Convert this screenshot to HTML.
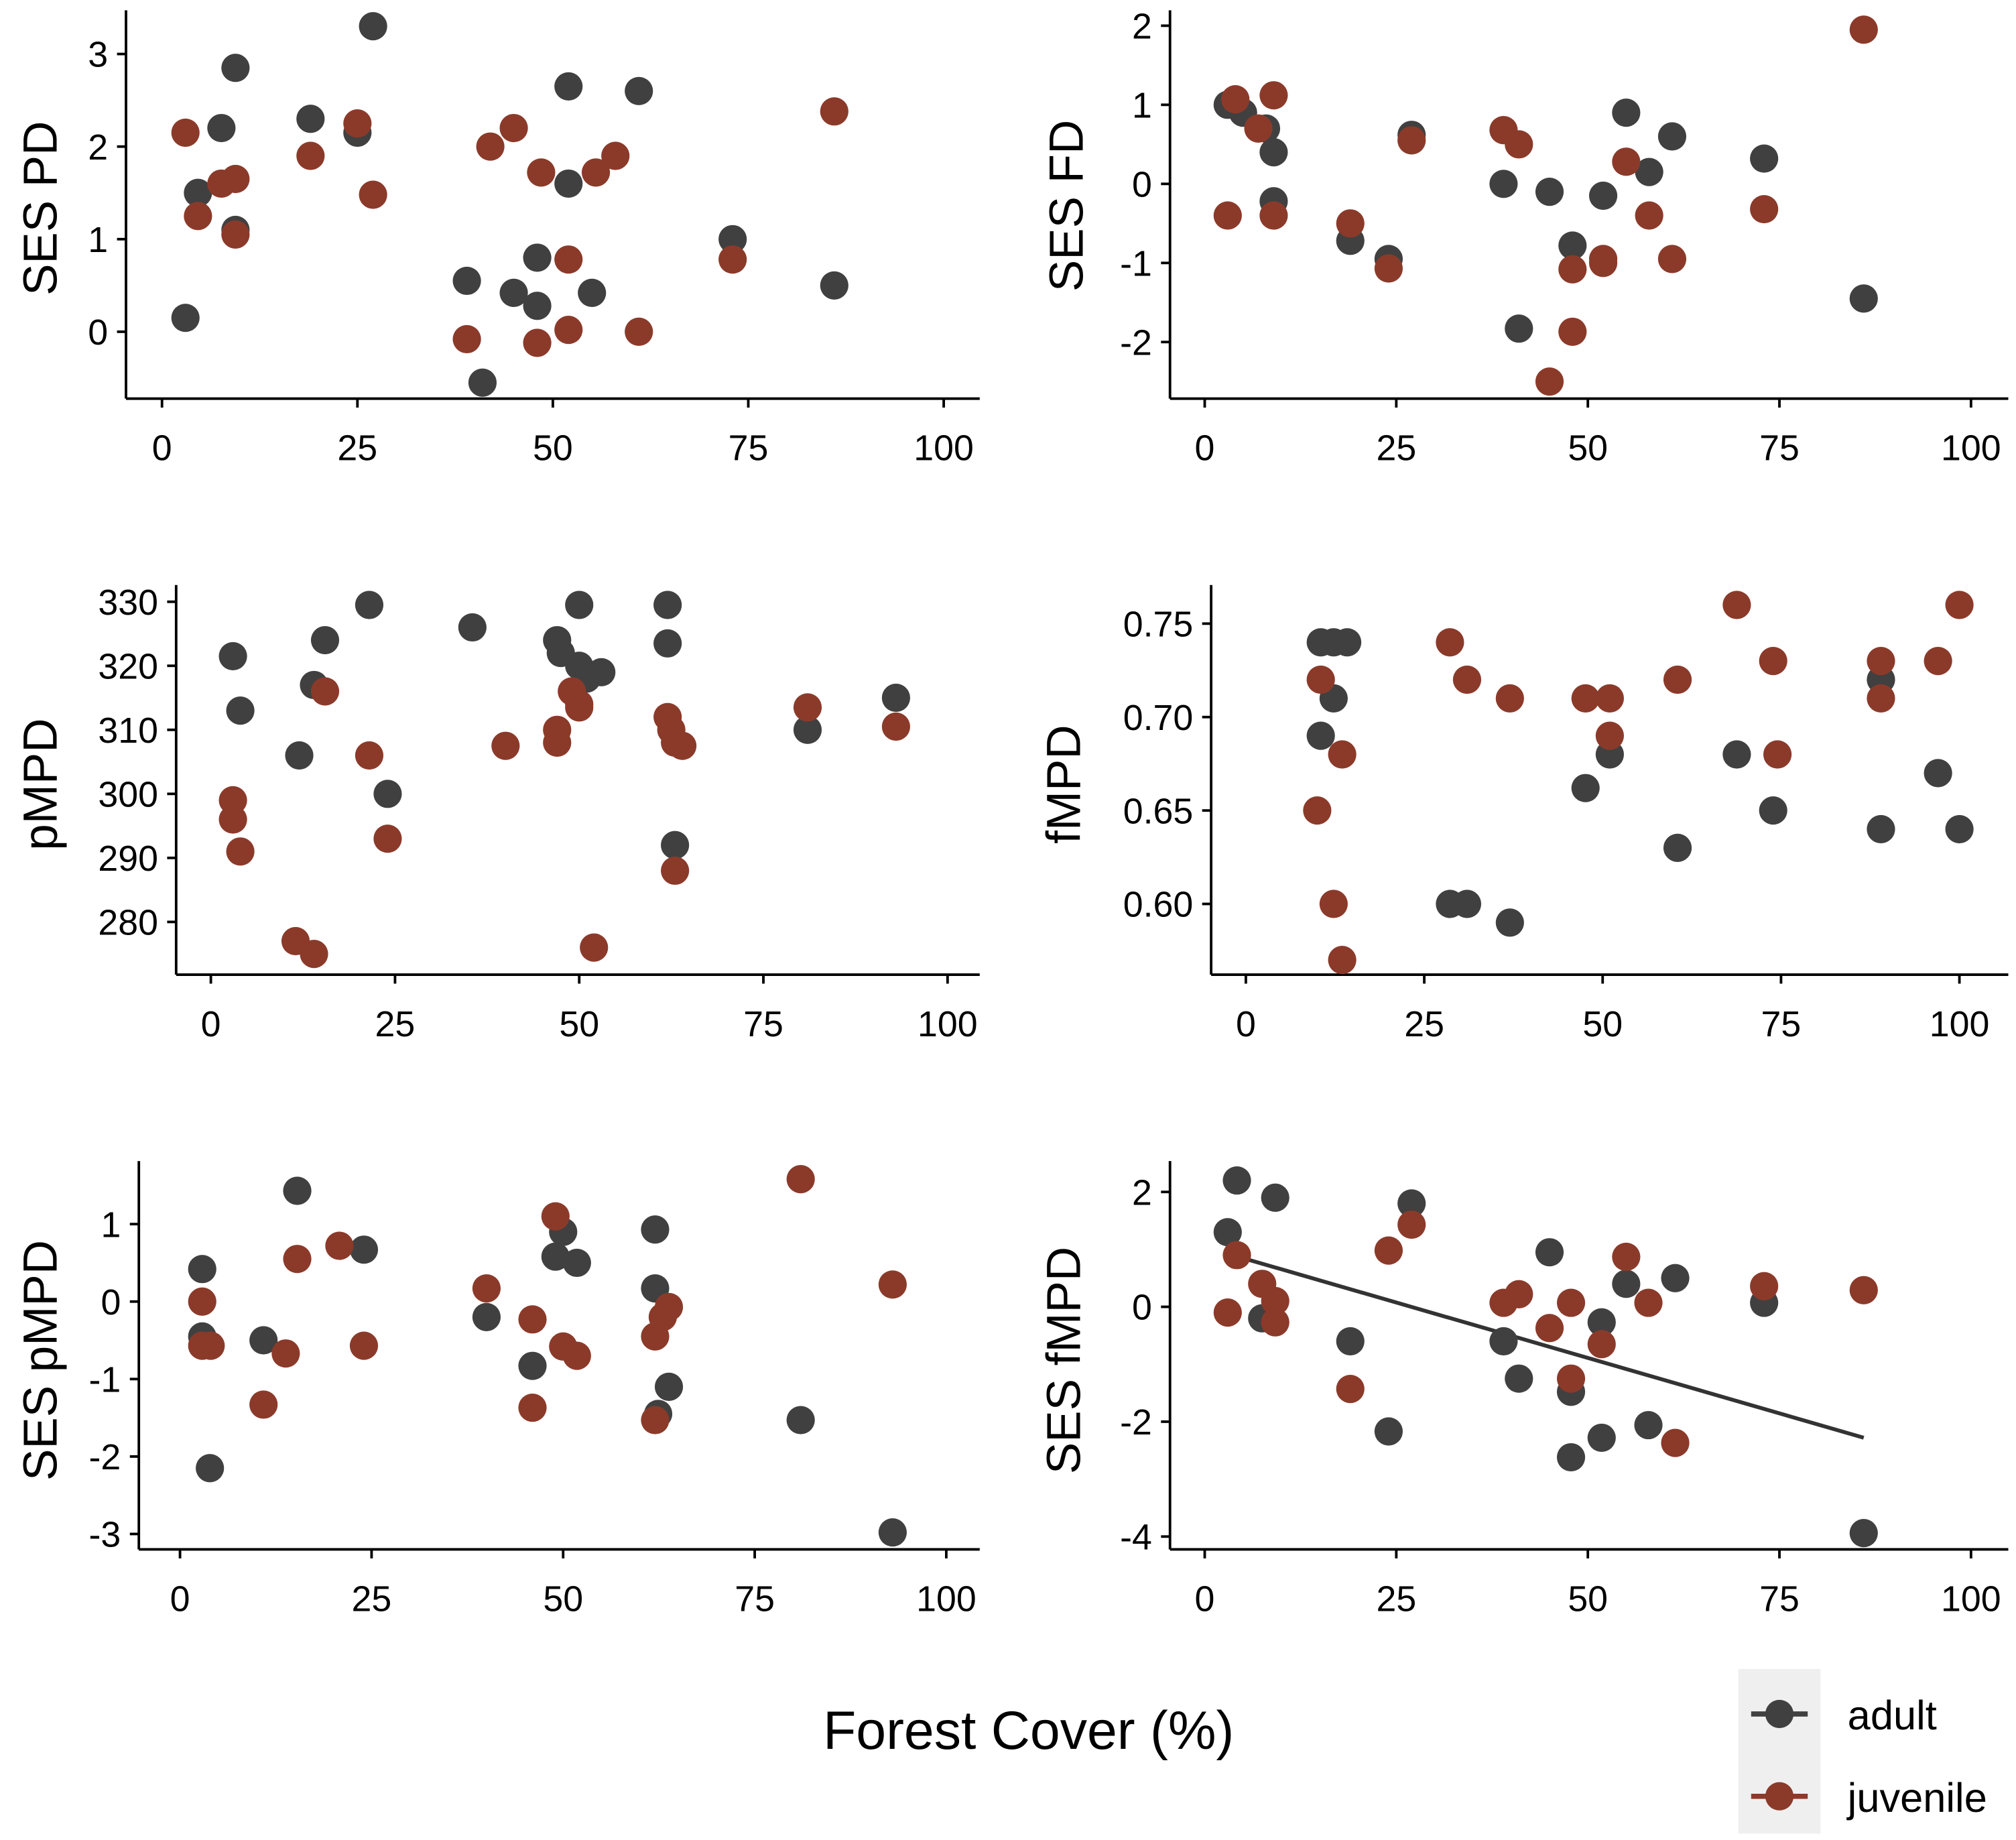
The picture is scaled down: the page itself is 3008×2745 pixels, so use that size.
<!DOCTYPE html>
<html><head><meta charset="utf-8">
<style>
html,body{margin:0;padding:0;background:#fff;}
svg{display:block;font-family:"Liberation Sans",Arial,sans-serif;}
</style></head>
<body>
<svg id="chart" xmlns="http://www.w3.org/2000/svg" width="3008" height="2745" viewBox="0 0 1568 1431" preserveAspectRatio="none">
<rect x="0" y="0" width="1568" height="1431" fill="#fff"/>
<text x="800" y="1360" font-size="42" text-anchor="middle" fill="#000">Forest Cover (%)</text>
<g>
<rect x="1352" y="1298" width="64" height="128" fill="#efefef"/>
<g>
<line x1="1362" y1="1333" x2="1406" y2="1333" stroke="#404040" stroke-width="4"/>
<circle cx="1384" cy="1333" r="11" fill="#404040"/>
<text x="1437" y="1345" font-size="32" fill="#000">adult</text>
</g>
<g>
<line x1="1362" y1="1397" x2="1406" y2="1397" stroke="#8b3a2a" stroke-width="4"/>
<circle cx="1384" cy="1397" r="11" fill="#8b3a2a"/>
<text x="1437" y="1409" font-size="32" fill="#000">juvenile</text>
</g>
</g>
</svg>
<script>
// ---- data ----
const xTicks = [0,25,50,75,100];
const xTickLabels = ["0","25","50","75","100"];

const sesPdTicks = [0,1,2,3];
const sesPdAdultX = [3,4.6,7.6,9.4,9.4,19,25,27,39,41,45,48,48,52,52,55,61,73,86];
const sesPdAdultY = [0.15,1.5,2.2,2.85,1.1,2.3,2.15,3.3,0.55,-0.55,0.42,0.28,0.8,2.65,1.6,0.42,2.6,1.0,0.5];
const sesPdJuvX = [3,4.6,7.6,9.4,9.4,19,25,27,39,42,45,48.5,48,52,52,55.5,58,61,73,86];
const sesPdJuvY = [2.15,1.25,1.6,1.65,1.05,1.9,2.25,1.48,-0.08,2.0,2.2,1.72,-0.12,0.78,0.02,1.72,1.9,0,0.78,2.38];

const sesFdTicks = [-2,-1,0,1,2];
const sesFdAdultX = [3,5,8,9,9,19,24,27,39,41,45,48,52,55,58,61,73,86];
const sesFdAdultY = [1.0,0.9,0.7,0.4,-0.22,-0.72,-0.95,0.62,0,-1.83,-0.1,-0.78,-0.15,0.9,0.15,0.6,0.32,-1.45];
const sesFdJuvX = [3,4,7,9,9,19,24,27,39,41,45,48,48,52,52,55,58,61,73,86];
const sesFdJuvY = [-0.4,1.07,0.7,1.12,-0.4,-0.5,-1.07,0.55,0.68,0.5,-2.5,-1.08,-1.87,-0.95,-1.0,0.28,-0.4,-0.95,-0.32,1.95];

const pmpdTicks = [280,290,300,310,320,330];
const pmpdAdultX = [3,4,12,14,15.5,21.5,24,35.5,47,47.5,50,50,51,53,62,62,63,81,93];
const pmpdAdultY = [321.5,313,306,317,324,329.5,300,326,324,322,329.5,320,318,319,329.5,323.5,292,310,315];
const pmpdJuvX = [3,3,4,11.5,14,15.5,21.5,24,40,47,47,49,50,50,52,62,62.5,63,64,63,81,93];
const pmpdJuvY = [299,296,291,277,275,316,306,293,307.5,310,308,316,314,313.5,276,312,310,308,307.5,288,313.5,310.5];

const fmpdTicks = [0.60,0.65,0.70,0.75];
const fmpdTickLabels = ["0.60","0.65","0.70","0.75"];
const fmpdAdultX = [10.5,12.3,14.2,10.5,12.3,28.6,31,37,47.6,51,60.5,68.8,73.9,89,89,97,100];
const fmpdAdultY = [0.74,0.74,0.74,0.69,0.71,0.60,0.60,0.59,0.662,0.68,0.63,0.68,0.65,0.72,0.64,0.67,0.64];
const fmpdJuvX = [10.5,10,12.3,13.5,13.5,28.6,31,37,47.6,51,51,60.5,68.8,73.9,74.5,89,89,97,100];
const fmpdJuvY = [0.72,0.65,0.60,0.57,0.68,0.74,0.72,0.71,0.71,0.71,0.69,0.72,0.76,0.73,0.68,0.73,0.71,0.73,0.76];

const sesPmpdTicks = [-3,-2,-1,0,1];
const sesPmpdAdultX = [2.9,2.9,3.9,10.9,15.3,24,40,46,49,50,51.8,62,62,63.8,62.4,81,93];
const sesPmpdAdultY = [0.42,-0.45,-2.15,-0.5,1.43,0.67,-0.2,-0.83,0.58,0.9,0.5,0.93,0.17,-1.1,-1.45,-1.53,-2.98];
const sesPmpdJuvX = [2.9,2.9,4,10.9,13.8,15.3,20.8,24,40,46,46,49,50,51.8,62,63,63.8,62,81,93];
const sesPmpdJuvY = [0,-0.57,-0.57,-1.33,-0.67,0.55,0.72,-0.57,0.17,-0.23,-1.37,1.1,-0.58,-0.7,-0.45,-0.2,-0.07,-1.53,1.58,0.22];

const sesFmpdTicks = [-4,-2,0,2];
const sesFmpdAdultX = [3,4.2,7.5,9.2,19,24,27,39,41,45,47.8,47.8,51.8,51.8,55,57.9,61.4,73,86];
const sesFmpdAdultY = [1.3,2.2,-0.2,1.9,-0.6,-2.17,1.8,-0.6,-1.25,0.95,-1.48,-2.62,-0.27,-2.28,0.4,-2.06,0.5,0.07,-3.94];
const sesFmpdJuvX = [3,4.2,7.5,9.2,9.2,19,24,27,39,41,45,47.8,47.8,51.8,55,57.9,61.4,73,86];
const sesFmpdJuvY = [-0.1,0.9,0.4,0.1,-0.27,-1.43,0.98,1.43,0.07,0.22,-0.37,0.07,-1.25,-0.65,0.87,0.07,-2.37,0.36,0.29];
const sesFmpdFitX = [3,86];
const sesFmpdFitCoef = [1.04,-0.0386]; // intercept, slope

// ---- drawing ----
const NS = "http://www.w3.org/2000/svg";
const svg = document.getElementById('chart');
const ADULT = "#404040", JUV = "#8b3a2a";
function mk(tag, attrs, parent){
  const e = document.createElementNS(NS, tag);
  for (const k in attrs) e.setAttribute(k, attrs[k]);
  (parent||svg).appendChild(e);
  return e;
}
function panel(cfg){
  const g = mk('g', {});
  
  
  const sx = v => cfg.x0 + v * (cfg.x100 - cfg.x0) / 100;
  const sy = v => cfg.ya + (v - cfg.va) * (cfg.yb - cfg.ya) / (cfg.vb - cfg.va);
  const yax = mk('line', {x1:cfg.axX, y1:cfg.top, x2:cfg.axX, y2:cfg.axY, stroke:'#000','stroke-width':2}, g);
  
  
  const xax = mk('line', {x1:cfg.axX, y1:cfg.axY, x2:cfg.right, y2:cfg.axY, stroke:'#000','stroke-width':2}, g);
  
  
  xTicks.forEach((t,i)=>{
    const x = sx(t);
    mk('line',{x1:x,y1:cfg.axY,x2:x,y2:cfg.axY+7,stroke:'#000','stroke-width':2},g);
    const tx = mk('text',{x:x,y:cfg.axY+48,'font-size':28,'text-anchor':'middle',fill:'#000'},g);
    tx.textContent = xTickLabels[i];
    
    
  });
  cfg.yTicks.forEach((t,i)=>{
    const y = sy(t);
    mk('line',{x1:cfg.axX-7,y1:y,x2:cfg.axX,y2:y,stroke:'#000','stroke-width':2},g);
    const tx = mk('text',{x:cfg.axX-14,y:y+10,'font-size':28,'text-anchor':'end',fill:'#000'},g);
    tx.textContent = cfg.yLabels ? cfg.yLabels[i] : String(t);
    
    
  });
  const tt = mk('text',{x:0,y:0,'font-size':37,'text-anchor':'middle',fill:'#000',transform:`translate(${cfg.titleX},${cfg.titleY}) rotate(-90)`},g);
  tt.textContent = cfg.title;
  
  
  if (cfg.fitX){
    const [b0,b1] = cfg.fitCoef;
    const ln = mk('line',{x1:sx(cfg.fitX[0]),y1:sy(b0+b1*cfg.fitX[0]),x2:sx(cfg.fitX[1]),y2:sy(b0+b1*cfg.fitX[1]),stroke:'#333','stroke-width':3},g);
    
    
  }
  cfg.ax.forEach((xv,i)=>{
    const c = mk('circle',{cx:sx(xv),cy:sy(cfg.ay[i]),r:11,fill:ADULT},g);
    
    
  });
  cfg.jx.forEach((xv,i)=>{
    const c = mk('circle',{cx:sx(xv),cy:sy(cfg.jy[i]),r:11,fill:JUV},g);
    
    
  });
}
panel({name:'panel-ses-pd',title:'SES PD',titleX:44,titleY:162,axX:98,axY:310,top:8,right:762,x0:126,x100:734,
  va:0,ya:258,vb:3,yb:42,yTicks:sesPdTicks,ax:sesPdAdultX,ay:sesPdAdultY,jx:sesPdJuvX,jy:sesPdJuvY});
panel({name:'panel-ses-fd',title:'SES FD',titleX:842,titleY:160,axX:910,axY:310,top:8,right:1562,x0:937,x100:1533,
  va:-2,ya:266,vb:2,yb:20,yTicks:sesFdTicks,ax:sesFdAdultX,ay:sesFdAdultY,jx:sesFdJuvX,jy:sesFdJuvY});
panel({name:'panel-pmpd',title:'pMPD',titleX:44,titleY:610,axX:137,axY:758,top:455,right:762,x0:164,x100:737,
  va:280,ya:717,vb:330,yb:468,yTicks:pmpdTicks,ax:pmpdAdultX,ay:pmpdAdultY,jx:pmpdJuvX,jy:pmpdJuvY});
panel({name:'panel-fmpd',title:'fMPD',titleX:840,titleY:610,axX:942,axY:758,top:455,right:1562,x0:969,x100:1524,
  va:0.60,ya:703,vb:0.75,yb:485,yTicks:fmpdTicks,yLabels:fmpdTickLabels,ax:fmpdAdultX,ay:fmpdAdultY,jx:fmpdJuvX,jy:fmpdJuvY});
panel({name:'panel-ses-pmpd',title:'SES pMPD',titleX:44,titleY:1058,axX:108,axY:1205,top:903,right:762,x0:140,x100:736,
  va:-3,ya:1193,vb:1,yb:952,yTicks:sesPmpdTicks,ax:sesPmpdAdultX,ay:sesPmpdAdultY,jx:sesPmpdJuvX,jy:sesPmpdJuvY});
panel({name:'panel-ses-fmpd',title:'SES fMPD',titleX:840,titleY:1058,axX:910,axY:1205,top:903,right:1562,x0:937,x100:1533,
  va:-4,ya:1195,vb:2,yb:927,yTicks:sesFmpdTicks,ax:sesFmpdAdultX,ay:sesFmpdAdultY,jx:sesFmpdJuvX,jy:sesFmpdJuvY,
  fitX:sesFmpdFitX,fitCoef:sesFmpdFitCoef});
</script>
</body></html>
